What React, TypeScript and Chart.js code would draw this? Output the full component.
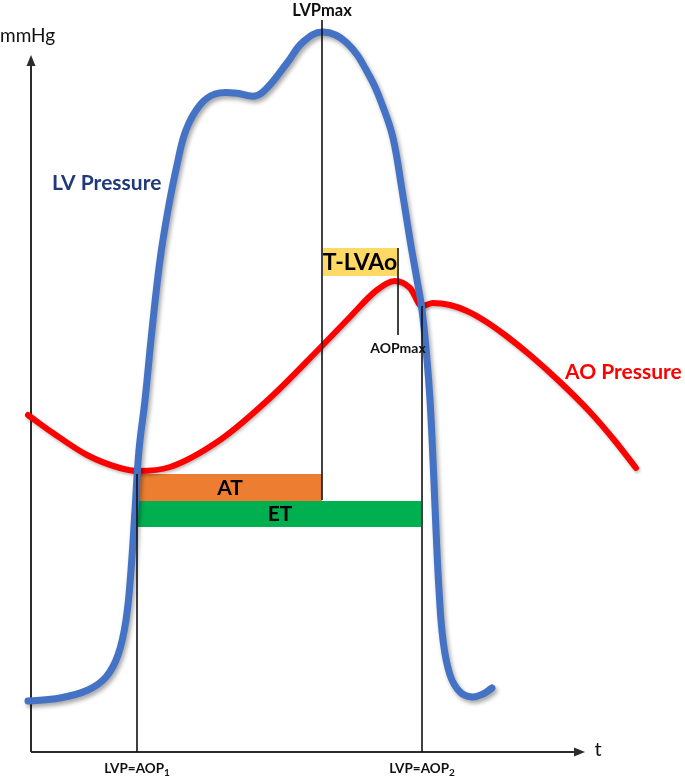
import React, { useEffect, useRef } from "react";
import { Chart, registerables } from "chart.js";

Chart.register(...registerables);

// LV pressure curve (time units, mmHg-like units)
const lvTime = [-3, 29, 57, 75, 87, 95, 100, 104, 108, 114, 121, 129, 137, 146, 155, 169, 184, 204, 224, 236, 256, 272, 292, 316, 339, 352, 362, 371, 379, 386, 391, 396, 399, 402, 405, 408, 412, 419, 429, 441, 452, 461];
const lvPressure = [51, 54, 62, 75, 97, 132, 182, 242, 302, 352, 422, 492, 542, 587, 622, 647, 658, 659, 656, 664, 689, 710, 720, 709, 675, 645, 614, 562, 512, 472, 442, 392, 352, 292, 222, 162, 112, 77, 60, 55, 58, 64];

// Aortic pressure curve
const aoTime = [-3, 22, 56, 89, 107, 139, 189, 239, 287, 319, 346, 364, 379, 391, 402, 419, 436, 454, 474, 499, 529, 559, 584, 605];
const aoPressure = [337, 319, 297, 284, 281, 285, 312, 354, 402, 435, 462, 471, 464, 446, 449, 447, 441, 431, 417, 397, 370, 340, 311, 284];

// Event times
const tAOP1 = 106;
const tLVPmax = 291;
const tAOPmax = 367;
const tAOP2 = 391;

// Interval bars: [start, end, low, high]
const atBar = [tAOP1, tLVPmax, 251, 278];
const etBar = [tAOP1, tAOP2 - 1, 225, 251];
const tlvaoBar = [tLVPmax + 1, tAOPmax - 1, 476, 504];

// Vertical marker lines: [time, from, to]
const markerLines = [
  [tAOP1, 0, 278],
  [tLVPmax, 252, 732],
  [tAOPmax, 417, 504],
  [tAOP2, 0, 446],
];

const xAxisEnd = 554;
const yAxisEnd = 697;

const FONT = "Lato, 'Open Sans', sans-serif";

const overlay = {
  id: "overlay",
  beforeDatasetDraw(chart: any, args: any) {
    const ctx = chart.ctx;
    ctx.save();
    if (args.index === 0) {
      ctx.shadowColor = "rgba(0,0,0,0.35)";
      ctx.shadowBlur = 4;
      ctx.shadowOffsetX = 2;
      ctx.shadowOffsetY = 3;
    } else {
      ctx.shadowColor = "rgba(0,0,0,0.25)";
      ctx.shadowBlur = 3;
      ctx.shadowOffsetX = 1;
      ctx.shadowOffsetY = 2;
    }
  },
  afterDatasetDraw(chart: any) {
    chart.ctx.restore();
  },
  beforeDatasetsDraw(chart: any) {
    const ctx = chart.ctx;
    const xs = chart.scales.x;
    const ys = chart.scales.y;
    const X = (v: number) => xs.getPixelForValue(v);
    const Y = (v: number) => ys.getPixelForValue(v);
    ctx.save();
    // axes
    ctx.strokeStyle = "#2b2b2b";
    ctx.fillStyle = "#2b2b2b";
    ctx.lineWidth = 2;
    ctx.beginPath();
    ctx.moveTo(X(0), Y(0));
    ctx.lineTo(X(0), Y(yAxisEnd) + 8);
    ctx.moveTo(X(0), Y(0));
    ctx.lineTo(X(xAxisEnd) - 8, Y(0));
    ctx.stroke();
    // arrows
    ctx.beginPath();
    ctx.moveTo(X(0), Y(yAxisEnd));
    ctx.lineTo(X(0) - 4.5, Y(yAxisEnd) + 11);
    ctx.lineTo(X(0) + 4.5, Y(yAxisEnd) + 11);
    ctx.closePath();
    ctx.fill();
    ctx.beginPath();
    ctx.moveTo(X(xAxisEnd), Y(0));
    ctx.lineTo(X(xAxisEnd) - 11, Y(0) - 4.5);
    ctx.lineTo(X(xAxisEnd) - 11, Y(0) + 4.5);
    ctx.closePath();
    ctx.fill();
    // bars
    const rect = (b: number[], color: string) => {
      ctx.fillStyle = color;
      ctx.fillRect(X(b[0]), Y(b[3]), X(b[1]) - X(b[0]), Y(b[2]) - Y(b[3]));
    };
    rect(atBar, "#ED7D31");
    rect(etBar, "#00B050");
    rect(tlvaoBar, "#FFD966");
    ctx.restore();
  },
  afterDatasetsDraw(chart: any) {
    const ctx = chart.ctx;
    const xs = chart.scales.x;
    const ys = chart.scales.y;
    const X = (v: number) => xs.getPixelForValue(v);
    const Y = (v: number) => ys.getPixelForValue(v);
    ctx.save();
    ctx.strokeStyle = "#111";
    ctx.lineWidth = 1.6;
    markerLines.forEach((m) => {
      ctx.beginPath();
      ctx.moveTo(X(m[0]), Y(m[1]));
      ctx.lineTo(X(m[0]), Y(m[2]));
      ctx.stroke();
    });
    const text = (s: string, t: number, p: number, font: string, color: string, align: any = "center") => {
      ctx.font = font;
      ctx.fillStyle = color;
      ctx.textAlign = align;
      ctx.textBaseline = "middle";
      ctx.fillText(s, X(t), Y(p));
    };
    text("mmHg", -31, 716, `19px ${FONT}`, "#111", "left");
    text("t", 567, 2, `20px ${FONT}`, "#111");
    text("LVPmax", tLVPmax, 741, `bold 16.5px ${FONT}`, "#111");
    text("LV Pressure", 21, 569, `bold 21px ${FONT}`, "#1F3A7A", "left");
    text("AO Pressure", 534, 380, `bold 21px ${FONT}`, "#FF0000", "left");
    text("T-LVAo", (tlvaoBar[0] + tlvaoBar[1]) / 2, 489, `bold 23px ${FONT}`, "#000");
    text("AOPmax", tAOPmax, 404, `bold 14px ${FONT}`, "#111");
    text("AT", 199, 264, `bold 21px ${FONT}`, "#000");
    text("ET", 249, 238, `bold 21px ${FONT}`, "#000");
    // bottom labels with subscripts
    const sub = (t: number, s: string) => {
      ctx.font = `bold 13.5px ${FONT}`;
      const w1 = ctx.measureText("LVP=AOP").width;
      ctx.font = `bold 10px ${FONT}`;
      const w2 = ctx.measureText(s).width;
      const x0 = X(t) - (w1 + w2) / 2;
      const y0 = Y(-17);
      ctx.fillStyle = "#111";
      ctx.textAlign = "left";
      ctx.textBaseline = "middle";
      ctx.font = `bold 13.5px ${FONT}`;
      ctx.fillText("LVP=AOP", x0, y0);
      ctx.font = `bold 10px ${FONT}`;
      ctx.fillText(s, x0 + w1, y0 + 4);
    };
    sub(tAOP1, "1");
    sub(tAOP2, "2");
    ctx.restore();
  },
};

export default function App() {
  const ref = useRef<HTMLCanvasElement | null>(null);
  useEffect(() => {
    if (!ref.current) return;
    const chart = new Chart(ref.current, {
      type: "line",
      data: {
        datasets: [
          {
            label: "LV Pressure",
            data: lvTime.map((t, i) => ({ x: t, y: lvPressure[i] })),
            borderColor: "#4472C4",
            borderWidth: 7,
            pointRadius: 0,
            tension: 0.4,
            fill: false,
            borderCapStyle: "round",
            borderJoinStyle: "round",
          },
          {
            label: "AO Pressure",
            data: aoTime.map((t, i) => ({ x: t, y: aoPressure[i] })),
            borderColor: "#FF0000",
            borderWidth: 6,
            pointRadius: 0,
            cubicInterpolationMode: "monotone",
            fill: false,
            borderCapStyle: "round",
            borderJoinStyle: "round",
          },
        ],
      },
      options: {
        animation: false,
        responsive: true,
        maintainAspectRatio: false,
        layout: { padding: 0 },
        plugins: { legend: { display: false }, tooltip: { enabled: false } },
        events: [],
        scales: {
          x: { type: "linear", min: -31, max: 654, display: false },
          y: { type: "linear", min: -27, max: 752, display: false },
        },
      },
      plugins: [overlay],
    } as any);
    return () => chart.destroy();
  }, []);
  return (
    <div style={{ position: "fixed", left: 0, top: 0, width: 685, height: 779, background: "#fff" }}>
      <canvas ref={ref} />
    </div>
  );
}
